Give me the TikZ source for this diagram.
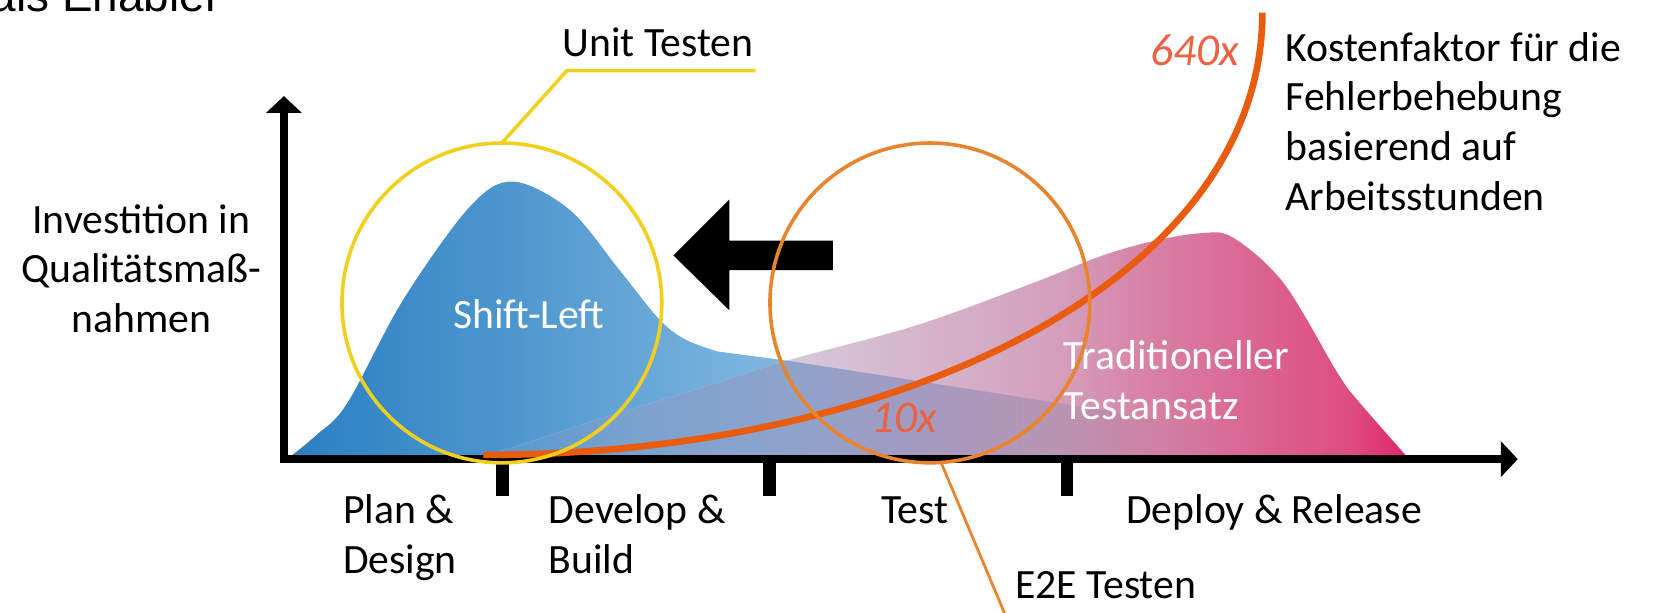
\documentclass[tikz,border=0pt]{standalone}
\usepackage{fontspec}
\setmainfont{Carlito}
\newfontfamily\titlefont{Liberation Sans}
\usetikzlibrary{arrows.meta}
\definecolor{bl0}{HTML}{2A7FC3}
\definecolor{bl1}{HTML}{4E97CE}
\definecolor{bl2}{HTML}{79B3DD}
\definecolor{bl3}{HTML}{86BCE2}
\definecolor{bl4}{HTML}{8CC0E4}
\definecolor{pk0}{HTML}{DAD4E6}
\definecolor{pk1}{HTML}{D7C8DC}
\definecolor{pk2}{HTML}{D5B8CD}
\definecolor{pk3}{HTML}{D4A8C3}
\definecolor{pk4}{HTML}{D49CBA}
\definecolor{pk5}{HTML}{D880A4}
\definecolor{pk6}{HTML}{DA6692}
\definecolor{pk7}{HTML}{DE4C80}
\definecolor{pk8}{HTML}{E0246A}
\definecolor{ov0}{HTML}{4F97CE}
\definecolor{ov1}{HTML}{5899CE}
\definecolor{ov2}{HTML}{7AA2CF}
\definecolor{ov3}{HTML}{8FA3CB}
\definecolor{ov4}{HTML}{A09BC2}
\definecolor{ov5}{HTML}{B995B2}
\definecolor{ov6}{HTML}{D07FA2}
\definecolor{ylw}{HTML}{F3CF1D}
\definecolor{e2eorange}{HTML}{E8852C}
\definecolor{costorange}{HTML}{E95C0E}
\definecolor{factorred}{HTML}{EB6242}
\pgfdeclarehorizontalshading{blueshade}{100bp}{color(0bp)=(bl0); color(25bp)=(bl0); color(35.4bp)=(bl1); color(45.8bp)=(bl2); color(50.7bp)=(bl3); color(75bp)=(bl4); color(100bp)=(bl4)}
\pgfdeclarehorizontalshading{pinkshade}{100bp}{color(0bp)=(pk0); color(25bp)=(pk0); color(41.9bp)=(pk1); color(47.6bp)=(pk2); color(53.3bp)=(pk3); color(56.7bp)=(pk4); color(61.2bp)=(pk5); color(66.5bp)=(pk6); color(71.9bp)=(pk7); color(75bp)=(pk8); color(100bp)=(pk8)}
\pgfdeclarehorizontalshading{overlapshade}{100bp}{color(0bp)=(ov0); color(25bp)=(ov0); color(26.4bp)=(ov1); color(33.4bp)=(ov2); color(41.9bp)=(ov3); color(47.6bp)=(ov4); color(56.1bp)=(ov5); color(61.8bp)=(ov6); color(66.5bp)=(pk6); color(71.9bp)=(pk7); color(75bp)=(pk8); color(100bp)=(pk8)}
\begin{document}
\begin{tikzpicture}[x=1pt,y=-1pt,
  lbl/.style={inner sep=0pt, outer sep=0pt, font=\fontsize{39.5}{47}\selectfont},
  wlbl/.style={lbl, text=white},
  factor/.style={inner sep=0pt, outer sep=0pt, text=factorred, font=\fontsize{43}{50}\selectfont\itshape},
  axisline/.style={line width=8pt, {Triangle[length=16pt,width=33pt]}-{Triangle[length=16pt,width=33pt]}},
  tickmark/.style={line width=12pt},
  ring/.style={circle, inner sep=0pt, outer sep=0pt, minimum size=303pt, line width=3.4pt},
]
\useasboundingbox (0,0) rectangle (1568,580);
\clip (0,0) rectangle (1568,580);

% blue area (Shift-Left)
\shade[shading=blueshade] plot[smooth,tension=0.55] coordinates {(272,435) (300,412) (329,382) (382,284) (445,196) (486,172) (540,199) (587,256) (625,303) (650,322) (680,333)} -- (748,342) -- (1004,382) -- (1250,421) -- (1300,435) -- cycle;

% pink area (traditional)
\shade[shading=pinkshade] plot[smooth,tension=0.55] coordinates {(452,435) (571,396) (666,367) (748,341) (869,308) (979,268) (1042,243) (1090,229) (1137,221) (1168,225) (1216,268) (1267,353) (1286,379) (1335,435)} -- cycle;

% overlap of both areas
\begin{scope}
\clip plot[smooth,tension=0.55] coordinates {(272,435) (300,412) (329,382) (382,284) (445,196) (486,172) (540,199) (587,256) (625,303) (650,322) (680,333)} -- (748,342) -- (1004,382) -- (1250,421) -- (1300,435) -- cycle;
\shade[shading=overlapshade] plot[smooth,tension=0.55] coordinates {(452,435) (571,396) (666,367) (748,341) (869,308) (979,268) (1042,243) (1090,229) (1137,221) (1168,225) (1216,268) (1267,353) (1286,379) (1335,435)} -- cycle;
\end{scope}

% area labels
\node[wlbl, anchor=base] (shiftleft) at (501,311) {Shift-Left};
\node[wlbl, anchor=base west] (traditional) at (1008,350) {\begin{tabular}[t]{@{}l@{}}Traditioneller\\Testansatz\end{tabular}};

% axes
\coordinate (ytop) at (269,91);
\coordinate (origin) at (269,435);
\coordinate (xend) at (1438,435);
\draw[axisline] (ytop) -- (origin) -- (xend);
\coordinate (t1a) at (476,435); \coordinate (t1b) at (476,470);
\coordinate (t2a) at (729,435); \coordinate (t2b) at (729,470);
\coordinate (t3a) at (1011,435); \coordinate (t3b) at (1011,470);
\draw[tickmark] (t1a) -- (t1b);
\draw[tickmark] (t2a) -- (t2b);
\draw[tickmark] (t3a) -- (t3b);

% cost curve
\coordinate (coststart) at (458,431);
\coordinate (costend) at (1196,12);
\draw[costorange, line width=6.3pt] (coststart) .. controls (858,431) and (1196,262) .. (costend);

% shift-left arrow
\fill[black] (638,242) -- (691,189) -- (691,228) -- (789,228) -- (789,256) -- (691,256) -- (691,294) -- cycle;

% circles
\node[ring, draw=ylw] (unitcircle) at (475.5,287) {};
\node[ring, draw=e2eorange] (e2ecircle) at (881,287) {};

% leaders
\coordinate (ylwcorner) at (537,67);
\coordinate (ylwend) at (716,67);
\draw[ylw, line width=3.3pt] (unitcircle.north) -- (ylwcorner) -- (ylwend);
\coordinate (e2eend) at (953,584);
\draw[e2eorange, line width=2.6pt] (e2ecircle.-86) -- (e2eend);

% labels
\node[lbl, anchor=base west] (unittext) at (533,54) {Unit Testen};
\node[lbl, anchor=base west] (e2etext) at (962,567) {E2E Testen};
\node[lbl, anchor=base west] (costtext) at (1218,58) {\begin{tabular}[t]{@{}l@{}}Kostenfaktor für die\\Fehlerbehebung\\basierend auf\\Arbeitsstunden\end{tabular}};
\node[lbl, anchor=base] (ylabel) at (134,221) {\begin{tabular}[t]{@{}c@{}}Investition in\\Qualitätsmaß-\\nahmen\end{tabular}};
\node[factor, anchor=base west] (f640) at (1090,62) {640x};
\node[factor, anchor=base west] (f10) at (826,410) {10x};
\node[lbl, anchor=base west] (plan) at (325,496) {\begin{tabular}[t]{@{}l@{}}Plan \&\\Design\end{tabular}};
\node[lbl, anchor=base west] (develop) at (520,496) {\begin{tabular}[t]{@{}l@{}}Develop \&\\Build\end{tabular}};
\node[lbl, anchor=base west] (test) at (835,496) {Test};
\node[lbl, anchor=base west] (deploy) at (1067,496) {Deploy \& Release};
\node[inner sep=0pt, anchor=base west, font=\titlefont\fontsize{43.5}{50}\selectfont] (title) at (-9,11) {als Enabler};
\end{tikzpicture}
\end{document}
